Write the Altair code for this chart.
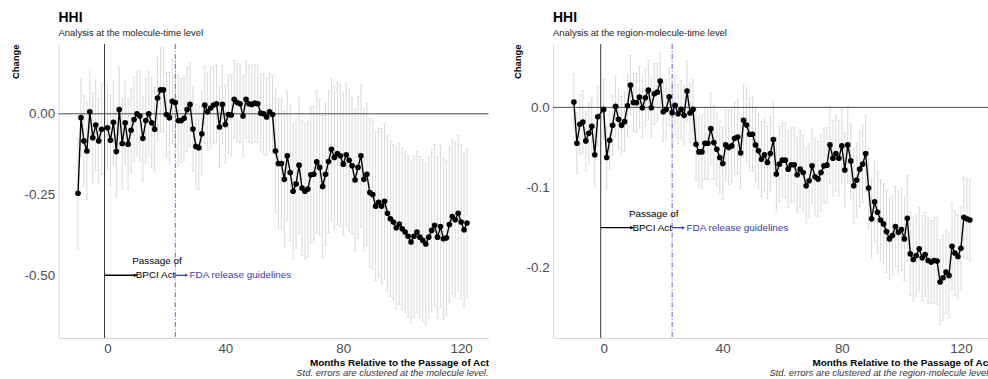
import altair as alt
import pandas as pd

# ---------------- data ----------------
months_left = list(range(-10, -1)) + list(range(0, 123))
est_left = [
    -0.246, -0.012, -0.084, -0.115, 0.006, -0.074, -0.035, -0.084, -0.048,
    -0.043, -0.082, -0.026, -0.117, 0.013, -0.092, -0.028, -0.094, -0.051, -0.018,
    0.000, -0.007, -0.076, -0.021, 0.000, -0.028, -0.048, 0.049, 0.074, 0.074,
    -0.002, -0.012, 0.039, 0.035, -0.021, -0.021, -0.014, 0.013, 0.029, -0.047,
    -0.101, -0.105, -0.062, 0.027, 0.006, 0.018, 0.027, 0.031, -0.041, 0.029,
    -0.033, -0.002, -0.004, 0.045, 0.035, 0.031, -0.007, 0.045, 0.031, 0.029,
    0.033, 0.031, 0.002, 0.000, -0.010, 0.006, -0.002, -0.115,
    -0.154, -0.154, -0.203, -0.130, -0.182, -0.240, -0.217, -0.159, -0.230, -0.240,
    -0.233, -0.189, -0.187, -0.149, -0.166, -0.225, -0.187, -0.148, -0.110, -0.135,
    -0.123, -0.130, -0.156, -0.127, -0.144, -0.161, -0.205, -0.166, -0.130, -0.203,
    -0.187, -0.244, -0.250, -0.286, -0.274, -0.286, -0.271, -0.308, -0.325, -0.335,
    -0.353, -0.341, -0.356, -0.366, -0.379, -0.397, -0.379, -0.366, -0.382, -0.392,
    -0.403, -0.382, -0.361, -0.345, -0.382, -0.349, -0.387, -0.384, -0.343, -0.318,
    -0.328, -0.308, -0.335, -0.359, -0.338,
]
hw_left = [
    0.17, 0.12, 0.14, 0.15, 0.13, 0.14, 0.14, 0.13, 0.14,
    0.13, 0.14, 0.13, 0.14, 0.13, 0.14, 0.13, 0.14, 0.13, 0.13,
    0.13, 0.14, 0.13, 0.13, 0.13, 0.14, 0.13, 0.13, 0.13, 0.13,
    0.13, 0.14, 0.13, 0.13, 0.14, 0.13, 0.13, 0.13, 0.13, 0.13,
    0.13, 0.13, 0.13, 0.12, 0.12, 0.125, 0.12, 0.12, 0.125, 0.12,
    0.12, 0.12, 0.125, 0.12, 0.12, 0.12, 0.125, 0.12, 0.12, 0.12,
    0.12, 0.12, 0.12, 0.125, 0.12, 0.12, 0.12, 0.19,
    0.20, 0.20, 0.21, 0.20, 0.21, 0.21, 0.20, 0.21, 0.21, 0.21,
    0.21, 0.21, 0.21, 0.22, 0.21, 0.22, 0.22, 0.22, 0.22, 0.22,
    0.22, 0.22, 0.22, 0.22, 0.22, 0.21, 0.22, 0.22, 0.22, 0.22,
    0.22, 0.23, 0.23, 0.23, 0.23, 0.24, 0.24, 0.24, 0.24, 0.24,
    0.25, 0.25, 0.25, 0.25, 0.25, 0.25, 0.25, 0.25, 0.25, 0.25,
    0.25, 0.25, 0.25, 0.25, 0.25, 0.25, 0.25, 0.24, 0.24, 0.24,
    0.24, 0.24, 0.24, 0.24, 0.23,
]

months_right = list(range(-10, -1)) + list(range(0, 124))
est_right = [
    0.0066, -0.0447, -0.0211, -0.0182, -0.0418, -0.0323, -0.0236, -0.0592, -0.0116,
    -0.0025, -0.0625, -0.0410, -0.0224, 0.0012, -0.0149, -0.0224, -0.0178, 0.0021, 0.0277,
    0.0062, 0.0058, 0.0128, -0.0004, 0.0120, 0.0215, -0.0004, 0.0170, 0.0190, 0.0327,
    -0.0054, -0.0025, 0.0132, -0.0066, 0.0025, -0.0079, -0.0025, -0.0099, 0.0203, -0.0070,
    -0.0025, -0.0460, -0.0555, -0.0555, -0.0447, -0.0447, -0.0265, -0.0439, -0.0522, -0.0625,
    -0.0700, -0.0468, -0.0501, -0.0480, -0.0385, -0.0369, -0.0567, -0.0161, -0.0219, -0.0335,
    -0.0335, -0.0468, -0.0542, -0.0646, -0.0592, -0.0687, -0.0576, -0.0402, -0.0832,
    -0.0708, -0.0658, -0.0658, -0.0770, -0.0716, -0.0716, -0.0841, -0.0770, -0.0812, -0.0977,
    -0.0915, -0.0729, -0.0865, -0.0894, -0.0812, -0.0729, -0.0720, -0.0468, -0.0634, -0.0576,
    -0.0634, -0.0480, -0.0782, -0.0468, -0.0667, -0.0977, -0.0907, -0.0770, -0.0708, -0.0576,
    -0.1006, -0.1390, -0.1176, -0.1308, -0.1404, -0.1453, -0.1549, -0.1640, -0.1598, -0.1486,
    -0.1557, -0.1524, -0.1640, -0.1383, -0.1826, -0.1896, -0.1847, -0.1764, -0.1876, -0.1834,
    -0.1909, -0.1929, -0.1909, -0.1917, -0.2178, -0.2124, -0.2054, -0.2095, -0.1731, -0.1818,
    -0.1860, -0.1756, -0.1370, -0.1390, -0.1404,
]
hw_right = [
    0.035, 0.038, 0.037, 0.039, 0.037, 0.038, 0.036, 0.039, 0.037,
    0.037, 0.038, 0.036, 0.037, 0.038, 0.037, 0.036, 0.037, 0.038, 0.037,
    0.036, 0.037, 0.038, 0.037, 0.036, 0.037, 0.037, 0.038, 0.036, 0.035,
    0.037, 0.037, 0.036, 0.038, 0.037, 0.037, 0.036, 0.037, 0.038, 0.037,
    0.037, 0.045, 0.044, 0.046, 0.045, 0.045, 0.044, 0.046, 0.045, 0.045,
    0.045, 0.044, 0.046, 0.045, 0.045, 0.046, 0.044, 0.045, 0.046, 0.045,
    0.046, 0.045, 0.046, 0.047, 0.046, 0.045, 0.046, 0.047, 0.046,
    0.047, 0.046, 0.047, 0.048, 0.047, 0.046, 0.047, 0.048, 0.047, 0.047,
    0.046, 0.047, 0.048, 0.047, 0.047, 0.046, 0.047, 0.048, 0.047, 0.047,
    0.047, 0.046, 0.047, 0.048, 0.047, 0.047, 0.046, 0.047, 0.048, 0.047,
    0.050, 0.049, 0.050, 0.051, 0.050, 0.050, 0.051, 0.050, 0.049, 0.050,
    0.052, 0.051, 0.052, 0.053, 0.052, 0.052, 0.051, 0.052, 0.053, 0.052,
    0.053, 0.052, 0.053, 0.054, 0.053, 0.053, 0.052, 0.053, 0.054, 0.053,
    0.052, 0.052, 0.050, 0.050, 0.050,
]

x_ticks = [0, 40, 80, 120]
yticks_left = [-0.5, -0.25, 0.0]
ylabels_left = ["-0.50", "-0.25", "0.00"]
yticks_right = [-0.2, -0.1, 0.0]
ylabels_right = ["-0.2", "-0.1", "0.0"]

PASSAGE = -1
FDA = 23

GRAY_TXT = "#4d4d4d"
BAR = "#cfcfcf"
BLUE_LINE = "#6262d6"
BLUE_TXT = "#3c3caa"

H = 296


def label_expr(vals, labs):
    expr = "''"
    for v, l in zip(vals, labs):
        expr = f"abs(datum.value - ({v})) < 1e-9 ? '{l}' : " + expr
    return expr


def make_panel(months, est, hw, xdom, ydom, yvals, ylabs, width, subtitle, caption, ann_y):
    df = pd.DataFrame({
        "month": months,
        "est": est,
        "lo": [e - h for e, h in zip(est, hw)],
        "hi": [e + h for e, h in zip(est, hw)],
    })
    one = pd.DataFrame({"k": [0]})
    xs = alt.Scale(domain=xdom, nice=False, zero=False)
    ys = alt.Scale(domain=ydom, nice=False, zero=False)
    x = alt.X("month:Q", scale=xs,
              title="Months Relative to the Passage of Act",
              axis=alt.Axis(values=x_ticks, format="d", titleAnchor="end",
                            titleAlign="right"))
    x_plain = alt.X("month:Q", scale=xs, title="Months Relative to the Passage of Act")
    base = alt.Chart(df)

    bars = base.mark_rule(color=BAR, strokeWidth=0.8).encode(
        x=x,
        y=alt.Y("lo:Q", scale=ys, title="Change",
                axis=alt.Axis(values=yvals, labelExpr=label_expr(yvals, ylabs))),
        y2="hi:Q",
    )
    cap_hi = base.mark_tick(color=BAR, thickness=0.8, size=3, orient="horizontal").encode(
        x=x_plain, y=alt.Y("hi:Q", scale=ys, title="Change"))
    cap_lo = base.mark_tick(color=BAR, thickness=0.8, size=3, orient="horizontal").encode(
        x=x_plain, y=alt.Y("lo:Q", scale=ys, title="Change"))

    zero = alt.Chart(one).mark_rule(color="#4a4a4a", strokeWidth=1).encode(y=alt.datum(0))
    vpass = alt.Chart(one).mark_rule(color="#333333", strokeWidth=1).encode(x=alt.datum(PASSAGE))
    vfda = alt.Chart(one).mark_rule(color=BLUE_LINE, strokeWidth=1,
                                    strokeDash=[5, 2, 1, 2]).encode(x=alt.datum(FDA))

    line = base.mark_line(color="black", strokeWidth=1.4).encode(
        x=x_plain, y=alt.Y("est:Q", scale=ys, title="Change"))
    pts = base.mark_circle(color="black", size=32, opacity=1).encode(
        x=x_plain, y=alt.Y("est:Q", scale=ys, title="Change"))

    arr1 = alt.Chart(one).mark_rule(color="black", strokeWidth=1.4).encode(
        x=alt.datum(PASSAGE), x2=alt.datum(10), y=alt.datum(ann_y))
    head1 = alt.Chart(one).mark_point(shape="triangle-right", filled=True, color="black",
                                      size=14, opacity=1).encode(
        x=alt.datum(9.5), y=alt.datum(ann_y))
    t1 = alt.Chart(one).mark_text(text="Passage of", fontSize=10, color="black",
                                  align="center", baseline="middle", dy=-14).encode(
        x=alt.datum(16.8), y=alt.datum(ann_y))
    t2 = alt.Chart(one).mark_text(text="BPCI Act", fontSize=10, color="black",
                                  align="center", baseline="middle").encode(
        x=alt.datum(16.3), y=alt.datum(ann_y))
    arr2 = alt.Chart(one).mark_rule(color=BLUE_TXT, strokeWidth=1.3).encode(
        x=alt.datum(FDA), x2=alt.datum(27), y=alt.datum(ann_y))
    head2 = alt.Chart(one).mark_point(shape="triangle-right", filled=True, color=BLUE_TXT,
                                      size=12, opacity=1).encode(
        x=alt.datum(26.8), y=alt.datum(ann_y))
    t3 = alt.Chart(one).mark_text(text="FDA release guidelines", fontSize=10, color=BLUE_TXT,
                                  align="left", baseline="middle").encode(
        x=alt.datum(27.8), y=alt.datum(ann_y))
    cap = alt.Chart(one).mark_text(text=caption, fontSize=9.5, fontStyle="italic",
                                   color="#333333", align="right", baseline="middle").encode(
        x=alt.value(width), y=alt.value(H + 35))

    return alt.layer(
        bars, cap_hi, cap_lo, zero, vpass, vfda, line, pts,
        arr1, head1, t1, t2, arr2, head2, t3, cap,
    ).properties(
        width=width, height=H,
        title=alt.TitleParams(
            text="HHI", subtitle=subtitle, anchor="start", frame="group",
            fontSize=14, fontWeight="bold", color="black",
            subtitleFontSize=9.5, subtitleColor="#222222",
            offset=6, subtitlePadding=3,
        ),
    )


left = make_panel(months_left, est_left, hw_left, [-16.6, 129.3], [-0.694, 0.216],
                  yticks_left, ylabels_left, 433,
                  "Analysis at the molecule-time level",
                  "Std. errors are clustered at the molecule level.", -0.5)
right = make_panel(months_right, est_right, hw_right, [-17.0, 130.1], [-0.2875, 0.079],
                   yticks_right, ylabels_right, 441,
                   "Analysis at the region-molecule-time level",
                   "Std. errors are clustered at the region-molecule level.", -0.15)

chart = alt.hconcat(left, right, spacing=22).properties(
    padding={"left": 9, "top": 9, "right": -4, "bottom": 0}
).configure(
    font="Liberation Sans"
).configure_view(
    stroke="transparent"
).configure_axis(
    grid=False, ticks=False, domainColor="#d6d6d6", domainWidth=1,
    labelColor=GRAY_TXT, labelFontSize=13.5, labelFont="Liberation Sans",
    titleColor="black", titleFontWeight="bold", titleFont="Liberation Sans",
).configure_axisX(
    labelPadding=4, titleFontSize=10, titlePadding=2,
).configure_axisY(
    labelPadding=4, titleFontSize=9.5, titlePadding=4, titleAnchor="end",
)

chart.save("out.html", embed_options={"renderer": "svg", "actions": False})
